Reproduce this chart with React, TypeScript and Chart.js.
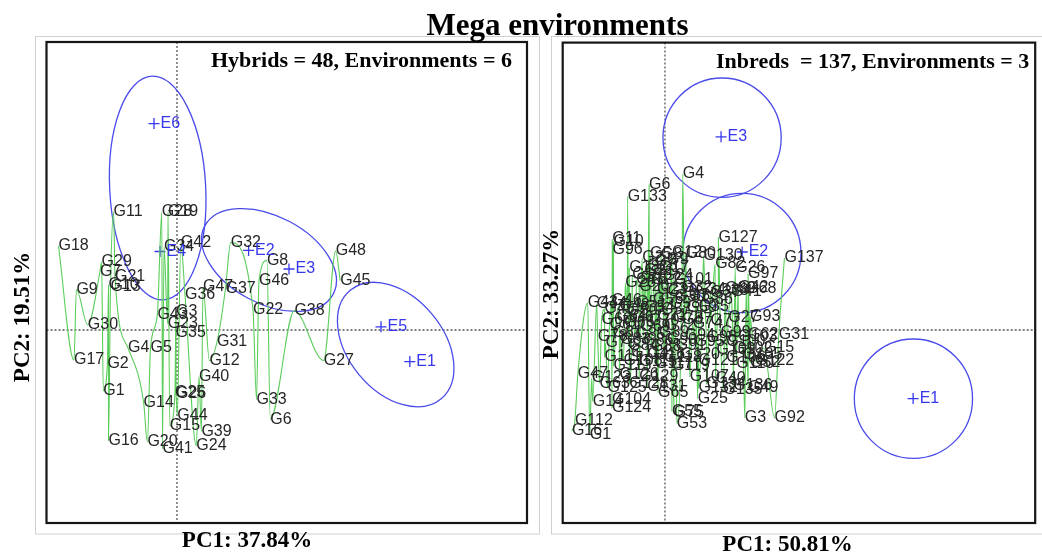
import React, { useEffect, useRef } from "react";
import { Chart, registerables } from "chart.js";

Chart.register(...registerables);

// ---------------- Hybrids (left panel) ----------------
const hybridCount = 48;
const hybridNames = Array.from({ length: hybridCount }, (_, i) => `G${i + 1}`);
const hybridPC1 = [
  -0.737, -0.696, -0.01, -0.49, -0.265, 0.933, -0.771, 0.899, -1.006, -0.685,
  -0.634, 0.324, -0.665, -0.334, -0.072, -0.685, -1.03, -1.185, -0.09, -0.296,
  -0.62, 0.76, -0.093, 0.193, -0.02, -0.01, 1.467, -0.152, -0.754, -0.892,
  0.4, 0.537, 0.795, -0.13, -0.014, 0.08, 0.485, 1.174, 0.244, 0.22,
  -0.145, 0.038, -0.196, 0.003, 1.632, 0.82, 0.26, 1.587,
];
const hybridPC2 = [
  -0.608, -0.34, 0.18, -0.18, -0.18, -0.892, 0.58, 0.696, 0.405, 0.45,
  1.18, -0.306, 0.43, -0.725, -0.96, -1.105, -0.3, 0.84, 1.18, -1.12,
  0.53, 0.202, 0.06, -1.158, -0.625, -0.64, -0.306, 1.18, 0.68, 0.05,
  -0.12, 0.874, -0.696, 0.83, -0.03, 0.35, 0.415, 0.192, -1.016, -0.466,
  -1.19, 0.874, 0.156, -0.856, 0.494, 0.494, 0.43, 0.79,
];
const hybridEnvNames = ["E1", "E2", "E3", "E4", "E5", "E6"];
const hybridEnvPC1 = [2.328, 0.716, 1.12, -0.17, 2.04, -0.23];
const hybridEnvPC2 = [-0.316, 0.796, 0.61, 0.785, 0.032, 2.064];
const hybridEllipseX = [-0.193, 0.92, 2.187];
const hybridEllipseY = [1.42, 0.7, -0.146];
const hybridEllipseRX = [0.48, 0.727, 0.708];
const hybridEllipseRY = [1.12, 0.436, 0.474];
const hybridEllipseAngle = [-3, 28, 50];

// ---------------- Inbreds (right panel) ----------------
const inbredCount = 137;
const inbredNames = Array.from({ length: inbredCount }, (_, i) => `G${i + 1}`);
const inbredPC1 = [
  -0.76, -0.23, 0.807, 0.18, -0.15, -0.16, -0.1, -0.04, 0.02, -0.52,
  -0.533, 0.07, -0.18, -0.73, 1.0, -0.94, -0.06, -0.36, -0.33, -0.26,
  -0.21, -0.14, -0.08, -0.02, 0.33, 0.71, 0.64, -0.4, 0.025, 0.1,
  1.15, 0.17, 0.24, 0.31, 0.34, 0.38, 0.46, 0.54, 0.61, 0.51,
  0.67, 0.74, -0.78, -0.69, -0.61, -0.54, -0.88, -0.46, 0.84, -0.38,
  -0.29, 0.86, 0.12, -0.21, 0.07, -0.12, -0.04, 0.05, 0.22, -0.64,
  -0.56, 0.84, -0.66, -0.49, -0.07, -0.41, -0.33, 0.82, -0.25, -0.16,
  -0.08, 0.0, 0.08, 0.28, 0.09, -0.29, 0.46, -0.68, -0.6, 0.21,
  -0.53, 0.507, -0.45, -0.37, -0.3, -0.22, 0.17, -0.14, -0.06, 0.02,
  0.11, 1.107, 0.86, 0.2, 0.3, -0.53, 0.84, 0.42, 0.56, 0.62,
  0.09, 0.69, 0.74, -0.535, 0.79, 0.62, 0.25, -0.42, 0.52, 0.72,
  -0.61, -0.91, -0.52, -0.34, -0.26, -0.18, -0.1, -0.01, 0.07, 0.16,
  0.34, 0.91, -0.74, -0.535, -0.58, -0.46, 0.54, -0.36, -0.26, 0.39,
  -0.18, 0.34, -0.377, 0.42, 0.59, 0.69, 1.207,
];
const inbredPC2 = [
  -1.05, 0.72, -0.88, 1.56, 0.76, 1.453, 0.68, 0.75, 0.7, 0.88,
  0.91, 0.77, 0.64, -0.715, -0.18, -1.01, 0.62, 0.62, 0.55, 0.43,
  0.59, 0.5, 0.4, 0.54, -0.685, 0.625, 0.12, 0.47, 0.38, 0.33,
  -0.045, 0.42, 0.34, 0.4, 0.23, 0.3, 0.37, 0.39, 0.41, -0.485,
  0.38, 0.42, 0.27, 0.26, 0.21, 0.29, -0.44, 0.24, -0.58, 0.19,
  0.27, -0.33, -0.935, 0.22, -0.815, 0.3, 0.2, 0.26, 0.22, 0.1,
  0.05, -0.05, -0.535, 0.13, -0.63, 0.07, 0.12, 0.41, 0.03, 0.09,
  0.14, 0.04, 0.12, 0.06, -0.83, 0.5, 0.09, -0.07, -0.13, 0.76,
  -0.03, 0.66, -0.1, -0.16, -0.05, -0.11, 0.1, -0.17, -0.03, -0.1,
  -0.16, -0.88, 0.13, -0.06, -0.12, 0.805, 0.56, -0.08, -0.03, -0.12,
  0.5, -0.19, -0.07, -0.7, -0.25, -0.28, -0.47, -0.31, -0.2, -0.34,
  -0.27, -0.905, -0.36, -0.23, -0.32, -0.25, -0.34, -0.28, -0.36, -0.25,
  -0.31, -0.31, -0.48, -0.78, -0.58, -0.45, 0.925, -0.54, -0.47, 0.745,
  -0.57, -0.58, 1.336, -0.54, -0.6, -0.56, 0.72,
];
const inbredEnvNames = ["E1", "E2", "E3"];
const inbredEnvPC1 = [2.507, 0.78, 0.567];
const inbredEnvPC2 = [-0.686, 0.78, 1.932];
const inbredEllipseX = [2.51, 0.777, 0.577];
const inbredEllipseY = [-0.687, 0.77, 1.923];
const inbredEllipseRX = [0.597, 0.597, 0.597];
const inbredEllipseRY = [0.597, 0.597, 0.597];
const inbredEllipseAngle = [0, 0, 0];

const TITLE = "Mega environments";

const SERIF = '"Liberation Serif", "Times New Roman", Times, serif';
const SANS = '"Liberation Sans", Arial, Helvetica, sans-serif';
const GREEN = "rgb(90, 205, 90)";
const BLUE = "rgb(55, 55, 235)";
const ELLIPSE = "rgb(75, 75, 235)";

type Spec = {
  names: string[];
  pc1: number[];
  pc2: number[];
  envNames: string[];
  envPC1: number[];
  envPC2: number[];
  ellX: number[];
  ellY: number[];
  ellRX: number[];
  ellRY: number[];
  ellAngle: number[];
  xMin: number;
  xMax: number;
  yMin: number;
  yMax: number;
  padding: { left: number; right: number; top: number; bottom: number };
  width: number;
  left: number;
  frame: [number, number, number, number];
  note: string;
  noteX: number;
  noteY: number;
  xTitle: string;
  xTitleX: number;
  xTitleY: number;
  yTitle: string;
  yTitleX: number;
  yTitleY: number;
};

const leftSpec: Spec = {
  names: hybridNames,
  pc1: hybridPC1,
  pc2: hybridPC2,
  envNames: hybridEnvNames,
  envPC1: hybridEnvPC1,
  envPC2: hybridEnvPC2,
  ellX: hybridEllipseX,
  ellY: hybridEllipseY,
  ellRX: hybridEllipseRX,
  ellRY: hybridEllipseRY,
  ellAngle: hybridEllipseAngle,
  xMin: -1.305,
  xMax: 3.5,
  yMin: -1.93,
  yMax: 2.88,
  padding: { left: 46.5, right: 13, top: 42, bottom: 34 },
  width: 540,
  left: 0,
  frame: [35.5, 36.5, 504, 497.5],
  note: "Hybrids = 48, Environments = 6",
  noteX: 211,
  noteY: 67,
  xTitle: "PC1: 37.84%",
  xTitleX: 247,
  xTitleY: 541.5,
  yTitle: "PC2: 19.51%",
  yTitleX: 23,
  yTitleY: 317,
};

const rightSpec: Spec = {
  names: inbredNames,
  pc1: inbredPC1,
  pc2: inbredPC2,
  envNames: inbredEnvNames,
  envPC1: inbredEnvPC1,
  envPC2: inbredEnvPC2,
  ellX: inbredEllipseX,
  ellY: inbredEllipseY,
  ellRX: inbredEllipseRX,
  ellRY: inbredEllipseRY,
  ellAngle: inbredEllipseAngle,
  xMin: -1.033,
  xMax: 3.74,
  yMin: -1.93,
  yMax: 2.874,
  padding: { left: 22.7, right: 2, top: 42.6, bottom: 34 },
  width: 502,
  left: 540,
  frame: [11.5, 36.5, 520, 497.5],
  note: "Inbreds  = 137, Environments = 3",
  noteX: 176,
  noteY: 67.5,
  xTitle: "PC1: 50.81%",
  xTitleX: 247.5,
  xTitleY: 545,
  yTitle: "PC2: 33.27%",
  yTitleX: 12.5,
  yTitleY: 294,
};

function makeChart(canvas: HTMLCanvasElement, spec: Spec) {
  const geno = spec.names
    .map((n, i) => ({ x: spec.pc1[i], y: spec.pc2[i], label: n }))
    .sort((a, b) => a.x - b.x);
  const envs = spec.envNames.map((n, i) => ({
    x: spec.envPC1[i],
    y: spec.envPC2[i],
    label: n,
  }));

  const decor = {
    id: "decor",
    beforeDatasetsDraw(chart: any) {
      const { ctx, chartArea, scales } = chart;
      const xs = scales.x;
      const ys = scales.y;
      ctx.save();
      ctx.strokeStyle = "#d0d0d0";
      ctx.lineWidth = 1;
      ctx.strokeRect(spec.frame[0], spec.frame[1], spec.frame[2], spec.frame[3]);
      ctx.strokeStyle = "#555";
      ctx.lineWidth = 1.3;
      ctx.setLineDash([2, 2]);
      const x0 = xs.getPixelForValue(0);
      const y0 = ys.getPixelForValue(0);
      ctx.beginPath();
      ctx.moveTo(x0, chartArea.top);
      ctx.lineTo(x0, chartArea.bottom);
      ctx.moveTo(chartArea.left, y0);
      ctx.lineTo(chartArea.right, y0);
      ctx.stroke();
      ctx.setLineDash([]);
      ctx.strokeStyle = ELLIPSE;
      ctx.lineWidth = 1.3;
      spec.ellX.forEach((cx, i) => {
        const px = xs.getPixelForValue(cx);
        const py = ys.getPixelForValue(spec.ellY[i]);
        const rx = Math.abs(xs.getPixelForValue(cx + spec.ellRX[i]) - px);
        const ry = Math.abs(ys.getPixelForValue(spec.ellY[i] + spec.ellRY[i]) - py);
        ctx.beginPath();
        ctx.ellipse(px, py, rx, ry, (spec.ellAngle[i] * Math.PI) / 180, 0, Math.PI * 2);
        ctx.stroke();
      });
      ctx.restore();
    },
    afterDatasetsDraw(chart: any) {
      const { ctx, chartArea } = chart;
      ctx.save();
      const m0 = chart.getDatasetMeta(0);
      ctx.font = `16px ${SANS}`;
      ctx.fillStyle = "#262626";
      ctx.textAlign = "left";
      ctx.textBaseline = "middle";
      m0.data.forEach((el: any, i: number) => {
        ctx.fillText(geno[i].label, el.x, el.y);
      });
      const m1 = chart.getDatasetMeta(1);
      ctx.fillStyle = BLUE;
      m1.data.forEach((el: any, i: number) => {
        ctx.fillText(envs[i].label, el.x + 6.5, el.y);
      });
      ctx.strokeStyle = "#151515";
      ctx.lineWidth = 2.2;
      ctx.strokeRect(
        chartArea.left,
        chartArea.top,
        chartArea.right - chartArea.left,
        chartArea.bottom - chartArea.top
      );
      ctx.fillStyle = "#000";
      ctx.font = `bold 22px ${SERIF}`;
      ctx.textBaseline = "alphabetic";
      ctx.textAlign = "left";
      ctx.fillText(spec.note, spec.noteX, spec.noteY);
      ctx.font = `bold 23px ${SERIF}`;
      ctx.textAlign = "center";
      ctx.textBaseline = "middle";
      ctx.fillText(spec.xTitle, spec.xTitleX, spec.xTitleY);
      ctx.save();
      ctx.translate(spec.yTitleX, spec.yTitleY);
      ctx.rotate(-Math.PI / 2);
      ctx.fillText(spec.yTitle, 0, 0);
      ctx.restore();
      ctx.restore();
    },
  };

  return new Chart(canvas, {
    type: "scatter",
    data: {
      datasets: [
        {
          data: geno,
          showLine: true,
          borderColor: GREEN,
          borderWidth: 1.1,
          pointRadius: 0,
          pointHoverRadius: 0,
          cubicInterpolationMode: "monotone",
          tension: 0.4,
        } as any,
        {
          data: envs,
          showLine: false,
          pointStyle: "cross",
          pointRadius: 5.5,
          pointHoverRadius: 5.5,
          borderColor: BLUE,
          borderWidth: 1.3,
          backgroundColor: BLUE,
        } as any,
      ],
    },
    options: {
      animation: false,
      responsive: false,
      maintainAspectRatio: false,
      devicePixelRatio: 1,
      events: [],
      layout: { padding: spec.padding },
      plugins: {
        legend: { display: false },
        tooltip: { enabled: false },
        title: { display: false },
      },
      scales: {
        x: { type: "linear", display: false, min: spec.xMin, max: spec.xMax },
        y: { type: "linear", display: false, min: spec.yMin, max: spec.yMax },
      },
    },
    plugins: [decor],
  });
}

function Panel({ spec }: { spec: Spec }) {
  const ref = useRef<HTMLCanvasElement | null>(null);
  useEffect(() => {
    if (!ref.current) return;
    const chart = makeChart(ref.current, spec);
    return () => chart.destroy();
  }, [spec]);
  return (
    <canvas
      ref={ref}
      width={spec.width}
      height={557}
      style={{
        position: "absolute",
        left: spec.left,
        top: 0,
        width: spec.width,
        height: 557,
      }}
    />
  );
}

export default function App() {
  return (
    <div
      style={{
        position: "fixed",
        left: 0,
        top: 0,
        width: 1042,
        height: 557,
        background: "#fff",
        overflow: "hidden",
      }}
    >
      <Panel spec={leftSpec} />
      <Panel spec={rightSpec} />
      <div
        style={{
          position: "absolute",
          left: 357.5,
          width: 400,
          top: 8.5,
          textAlign: "center",
          font: `bold 31px ${SERIF}`,
          lineHeight: "31px",
          color: "#000",
          whiteSpace: "nowrap",
        }}
      >
        {TITLE}
      </div>
    </div>
  );
}
